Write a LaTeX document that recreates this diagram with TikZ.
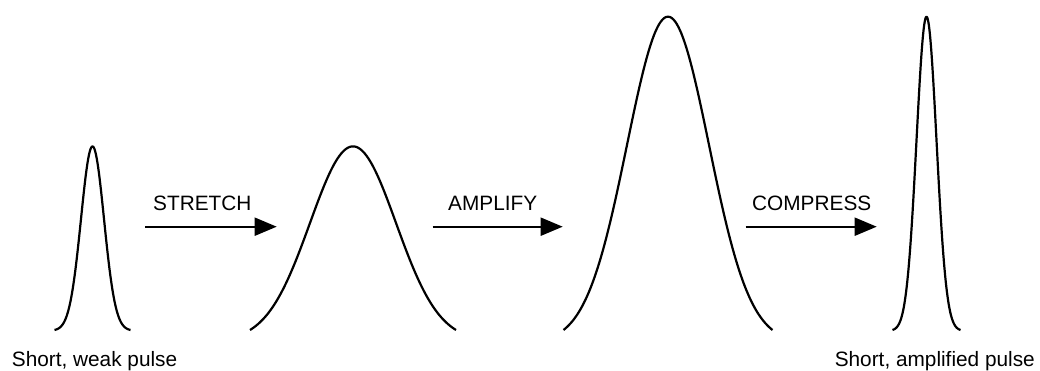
\documentclass[tikz,border=0pt]{standalone}
\usepackage{fontspec}
\setmainfont{Liberation Sans}
\usetikzlibrary{arrows.meta}
% one pulse: centre, half width, height, sigma (baseline at y=41)
\newcommand{\drawpulse}[4]{%
  \draw[pulse] plot[domain=-#2:#2, samples=121]
    ({#1+\x}, {41 + #3*(exp(-(\x*\x)/(2*#4*#4)) - exp(-(#2*#2)/(2*#4*#4)))
                     /(1 - exp(-(#2*#2)/(2*#4*#4)))});}
\tikzset{
  pulse/.style={line width=2.2pt, line join=round, smooth},
  arr/.style={-{Triangle[length=22pt, width=18pt]}, line width=2pt},
  lbl/.style={inner sep=0pt, font=\fontsize{20.8}{24}\selectfont},
}

\begin{document}
\begin{tikzpicture}[x=1pt, y=1pt]
\useasboundingbox (0,0) rectangle (1040,371);

\drawpulse{92.5}{38}{183.6}{11.5}
\drawpulse{353}{103}{183.6}{43}
\drawpulse{668}{104.5}{313.3}{41}
\drawpulse{926.5}{34}{313.3}{10}

\coordinate (stretchA) at (145,144.3);
\coordinate (stretchB) at (276.7,144.3);
\coordinate (amplifyA) at (432.7,144.3);
\coordinate (amplifyB) at (562.7,144.3);
\coordinate (compressA) at (745.7,144.3);
\coordinate (compressB) at (876.7,144.3);

\node[lbl, anchor=base west] (stretch) at (153,160.3) {STRETCH};
\node[lbl, anchor=base west] (amplify) at (448,160.3) {AMPLIFY};
\node[lbl, anchor=base west] (compress) at (752,160.3) {COMPRESS};

\node[lbl, anchor=base west] (weak) at (11.7,4.3) {Short, weak pulse};
\node[lbl, anchor=base east] (amplified) at (1035,4.3) {Short, amplified pulse};

\foreach \a/\b in {stretchA/stretchB, amplifyA/amplifyB, compressA/compressB}
  \draw[arr] (\a) -- (\b);

\end{tikzpicture}
\end{document}
